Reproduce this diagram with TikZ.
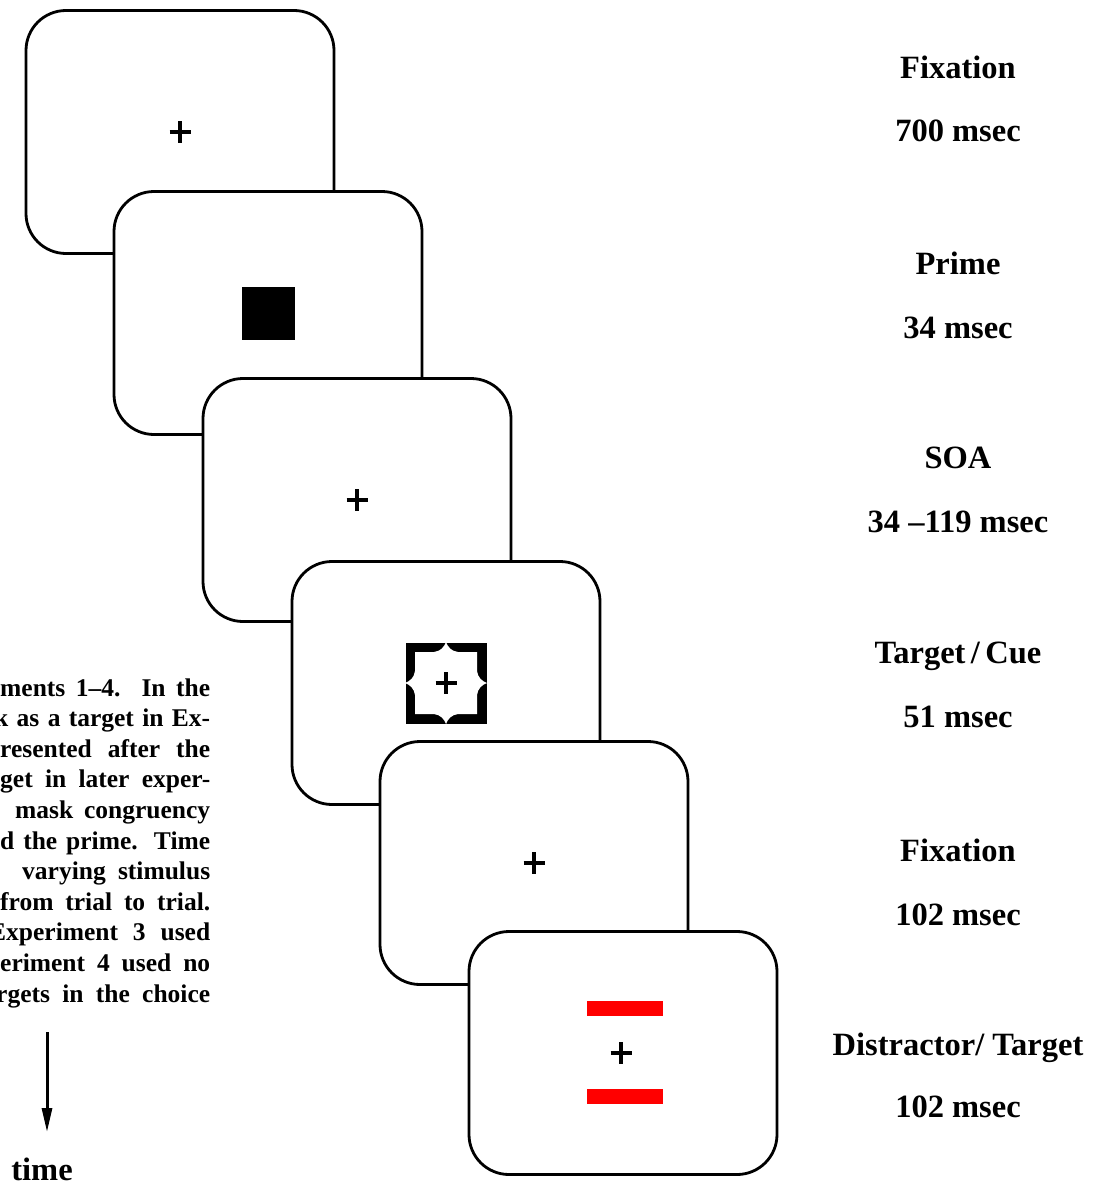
\documentclass[tikz,border=0pt]{standalone}
\usepackage{fontspec}
\setmainfont{Liberation Serif}
\usetikzlibrary{arrows.meta}
\tikzset{
  screen/.style={draw, line width=2.8pt, fill=white, rounded corners=40pt,
    minimum width=308pt, minimum height=243pt, inner sep=0pt},
  lbl/.style={font=\fontsize{32.5}{36}\selectfont\bfseries, anchor=base, inner sep=0pt},
  captxt/.style={font=\fontsize{25.5}{28}\selectfont\bfseries, anchor=base west, inner sep=0pt},
  fixmark/.pic={\draw[line width=3.2pt] (-10.5,0) -- (10.5,0) (0,-11) -- (0,11);},
  timearrow/.style={line width=3pt, -{Triangle[length=24pt,width=10pt]}}
}
\begin{document}
\begin{tikzpicture}[x=1pt,y=-1pt]
\useasboundingbox (0,0) rectangle (1101,1183);
\fill[white] (0,0) rectangle (1101,1183);

% cropped figure caption on the left
\begin{scope}
\clip (0,0) rectangle (1101,1183);
\node[captxt] (c1)  at (0,696)     {\makebox[210pt][s]{ments 1–4. In the}};
\node[captxt] (c2)  at (-6,726.6)  {\makebox[216pt][s]{k as a target in Ex-}};
\node[captxt] (c3)  at (0,757.2)   {\makebox[210pt][s]{resented after the}};
\node[captxt] (c4)  at (0,787.8)   {\makebox[210pt][s]{get in later exper-}};
\node[captxt] (c5)  at (15,818.4)  {\makebox[195pt][s]{mask congruency}};
\node[captxt] (c6)  at (0,849)     {\makebox[210pt][s]{d the prime. Time}};
\node[captxt] (c7)  at (22,879.6)  {\makebox[188pt][s]{varying stimulus}};
\node[captxt] (c8)  at (0,910.2)   {\makebox[210pt][s]{from trial to trial.}};
\node[captxt] (c9)  at (-11,940.8) {\makebox[221pt][s]{Experiment 3 used}};
\node[captxt] (c10) at (0,971.4)   {\makebox[210pt][s]{eriment 4 used no}};
\node[captxt] (c11) at (-4,1002)   {\makebox[214pt][s]{rgets in the choice}};
\end{scope}

% time axis
\coordinate (t0) at (47,1032);
\coordinate (t1) at (47,1132);
\draw[timearrow] (t0) -- (t1);
\node[lbl] (timelbl) at (42,1180) {time};

% screen 1: fixation
\node[screen] (p1) at (180,132) {};
\pic at (p1.center) {fixmark};

% screen 2: prime
\node[screen] (p2) at (268,313) {};
\fill ([shift={(-26.5,-26.5)}]p2.center) rectangle ([shift={(26.5,26.5)}]p2.center);

% screen 3: SOA fixation
\node[screen] (p3) at (357,500) {};
\pic at (p3.center) {fixmark};

% screen 4: target / cue (mask)
\node[screen] (p4) at (446,683) {};
\begin{scope}[shift={(p4.center)}]
  \fill (-40.5,-40.5) rectangle (40.5,40.5);
  \fill[white] (-31,-31) -- (-12,-31)
      .. controls (-5,-32) and (-2,-36) .. (0,-41)
      .. controls (2,-36) and (5,-32) .. (12,-31) -- (31,-31) -- (31,-12)
      .. controls (32,-5) and (36,-2) .. (41,0)
      .. controls (36,2) and (32,5) .. (31,12) -- (31,31) -- (12,31)
      .. controls (5,32) and (2,36) .. (0,41)
      .. controls (-2,36) and (-5,32) .. (-12,31) -- (-31,31) -- (-31,12)
      .. controls (-32,5) and (-36,2) .. (-41,0)
      .. controls (-36,-2) and (-32,-5) .. (-31,-12) -- cycle;
  \pic at (0,0) {fixmark};
\end{scope}

% screen 5: fixation
\node[screen] (p5) at (534,863) {};
\pic at (p5.center) {fixmark};

% screen 6: distractor / target
\node[screen] (p6) at (623,1053) {};
\fill[red] ([shift={(-36,-52)}]p6.center) rectangle ([shift={(40,-37)}]p6.center);
\fill[red] ([shift={(-36,36)}]p6.center) rectangle ([shift={(40,51)}]p6.center);
\pic at ([shift={(-2,0)}]p6.center) {fixmark};

% event names and durations
\node[lbl] (n1) at (958,78)   {Fixation};
\node[lbl] (d1) at (958,141)  {700 msec};
\node[lbl] (n2) at (958,274)  {Prime};
\node[lbl] (d2) at (958,338)  {34 msec};
\node[lbl] (n3) at (958,468)  {SOA};
\node[lbl] (d3) at (958,532)  {34 \textendash119 msec};
\node[lbl] (n4) at (958,663)  {Target\,/\,Cue};
\node[lbl] (d4) at (958,727)  {51 msec};
\node[lbl] (n5) at (958,861)  {Fixation};
\node[lbl] (d5) at (958,925)  {102 msec};
\node[lbl] (n6) at (958,1055) {Distractor/ Target};
\node[lbl] (d6) at (958,1117) {102 msec};
\end{tikzpicture}
\end{document}
